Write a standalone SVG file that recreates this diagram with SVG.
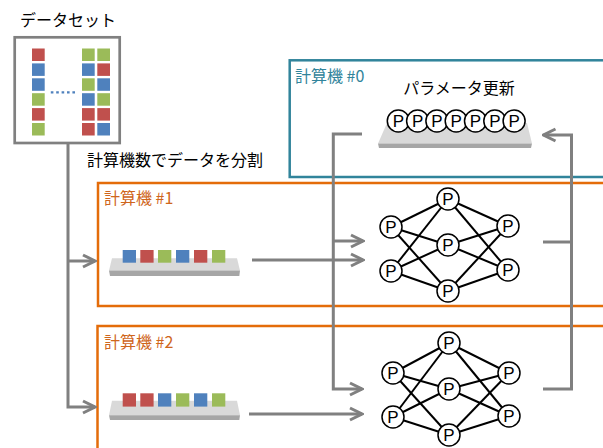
<svg xmlns="http://www.w3.org/2000/svg" width="603" height="448" viewBox="0 0 603 448">
<style>
.t{font-family:"Noto Sans CJK JP","Liberation Sans",sans-serif;font-size:16px;fill:#000}
.lt{fill:#31849B}
.lo{fill:#CF661C}
.r{fill:#C0504D}.b{fill:#4F81BD}.g{fill:#9BBB59}
.box{fill:none;stroke-width:2.5}
.conn{fill:none;stroke:#808080;stroke-width:3}
.edge{stroke:#000;stroke-width:2}
.pn circle{fill:#fff;stroke:#000;stroke-width:1.5}
.pn text{font-family:"Liberation Sans",Arial,sans-serif;font-size:17px;text-anchor:middle;fill:#000}
.tl{fill:#D9D9D9}
.td{fill:#A6A6A6}
</style>
<defs>
<marker id="ah" markerUnits="userSpaceOnUse" markerWidth="16" markerHeight="16" viewBox="0 0 16 16" refX="14" refY="8" orient="auto">
<path d="M2,2 L14,8 L2,14" fill="none" stroke="#808080" stroke-width="3"/>
</marker>
<filter id="soft" x="-5%" y="-30%" width="110%" height="160%"><feGaussianBlur stdDeviation="0.5"/></filter>
</defs>

<g id="dataset">
<text class="t" x="20" y="25.5">データセット</text>
<rect x="14.7" y="37.3" width="105" height="105.7" fill="#fff" stroke="#808080" stroke-width="2.7"/>
<rect class="r" x="32" y="48.5" width="12.7" height="12.5"/>
<rect class="b" x="32" y="63.4" width="12.7" height="12.5"/>
<rect class="b" x="32" y="78.3" width="12.7" height="12.5"/>
<rect class="g" x="32" y="93.2" width="12.7" height="12.5"/>
<rect class="r" x="32" y="108.1" width="12.7" height="12.5"/>
<rect class="g" x="32" y="123" width="12.7" height="12.5"/>
<rect class="g" x="82" y="48.5" width="12.7" height="12.5"/>
<rect class="b" x="82" y="63.4" width="12.7" height="12.5"/>
<rect class="g" x="82" y="78.3" width="12.7" height="12.5"/>
<rect class="b" x="82" y="93.2" width="12.7" height="12.5"/>
<rect class="r" x="82" y="108.1" width="12.7" height="12.5"/>
<rect class="r" x="82" y="123" width="12.7" height="12.5"/>
<rect class="g" x="97.3" y="48.5" width="12.7" height="12.5"/>
<rect class="r" x="97.3" y="63.4" width="12.7" height="12.5"/>
<rect class="b" x="97.3" y="78.3" width="12.7" height="12.5"/>
<rect class="g" x="97.3" y="93.2" width="12.7" height="12.5"/>
<rect class="r" x="97.3" y="108.1" width="12.7" height="12.5"/>
<rect class="b" x="97.3" y="123" width="12.7" height="12.5"/>
<line x1="50.8" y1="92.4" x2="75" y2="92.4" stroke="#4F81BD" stroke-width="2.4" stroke-dasharray="2.6 2.8"/>
</g>

<text id="split-label" class="t" x="87" y="165.5">計算機数でデータを分割</text>

<g id="pc0">
<rect class="box" x="289.7" y="60.3" width="330" height="116.7" stroke="#31849B"/>
<text class="t lt" x="295" y="82">計算機 #0</text>
<text class="t" x="459" y="94" text-anchor="middle">パラメータ更新</text>
<g filter="url(#soft)">
<polygon class="tl" points="387,123 527,123 532,143.5 378,143.5"/>
<polygon class="td" points="378,143.5 532,143.5 531,148 379,148"/>
</g>
<g class="pn">
<circle cx="398.3" cy="121" r="11"/><text x="398.3" y="127.1">P</text>
<circle cx="417.6" cy="121" r="11"/><text x="417.6" y="127.1">P</text>
<circle cx="436.9" cy="121" r="11"/><text x="436.9" y="127.1">P</text>
<circle cx="456.2" cy="121" r="11"/><text x="456.2" y="127.1">P</text>
<circle cx="475.5" cy="121" r="11"/><text x="475.5" y="127.1">P</text>
<circle cx="494.8" cy="121" r="11"/><text x="494.8" y="127.1">P</text>
<circle cx="514.1" cy="121" r="11"/><text x="514.1" y="127.1">P</text>
</g>
</g>

<g id="pc1">
<rect class="box" x="98" y="183" width="520" height="123" stroke="#E46C0A"/>
<text class="t lo" x="104" y="203.5">計算機 #1</text>
<g filter="url(#soft)">
<polygon class="tl" points="112,258.3 237,258.3 240,270.5 109,270.5"/>
<polygon class="td" points="109,270.5 240,270.5 239.3,276 110,276"/>
</g>
<rect class="b" x="122.7" y="250" width="13.3" height="12.7"/>
<rect class="r" x="140.3" y="250" width="13.3" height="12.7"/>
<rect class="g" x="158" y="250" width="13.3" height="12.7"/>
<rect class="b" x="176" y="250" width="13.3" height="12.7"/>
<rect class="r" x="194" y="250" width="13.3" height="12.7"/>
<rect class="g" x="212" y="250" width="13.3" height="12.7"/>
<g class="edge">
<line x1="391" y1="227" x2="448" y2="199"/><line x1="391" y1="227" x2="448" y2="245"/><line x1="391" y1="227" x2="448" y2="291"/>
<line x1="391" y1="271" x2="448" y2="199"/><line x1="391" y1="271" x2="448" y2="245"/><line x1="391" y1="271" x2="448" y2="291"/>
<line x1="448" y1="199" x2="508" y2="226"/><line x1="448" y1="199" x2="508" y2="270"/>
<line x1="448" y1="245" x2="508" y2="226"/><line x1="448" y1="245" x2="508" y2="270"/>
<line x1="448" y1="291" x2="508" y2="226"/><line x1="448" y1="291" x2="508" y2="270"/>
</g>
<g class="pn">
<circle cx="391" cy="227" r="11"/><text x="391" y="233.1">P</text>
<circle cx="391" cy="271" r="11"/><text x="391" y="277.1">P</text>
<circle cx="448" cy="199" r="11"/><text x="448" y="205.1">P</text>
<circle cx="448" cy="245" r="11"/><text x="448" y="251.1">P</text>
<circle cx="448" cy="291" r="11"/><text x="448" y="297.1">P</text>
<circle cx="508" cy="226" r="11"/><text x="508" y="232.1">P</text>
<circle cx="508" cy="270" r="11"/><text x="508" y="276.1">P</text>
</g>
</g>

<g id="pc2">
<rect class="box" x="97.5" y="326" width="520" height="140" stroke="#E46C0A"/>
<text class="t lo" x="104" y="348">計算機 #2</text>
<g filter="url(#soft)">
<polygon class="tl" points="112,400.7 237,400.7 240,415.3 109,415.3"/>
<polygon class="td" points="109,415.3 240,415.3 239.3,420 110,420"/>
</g>
<rect class="r" x="122.7" y="393.3" width="13.3" height="13.3"/>
<rect class="r" x="140.3" y="393.3" width="13.3" height="13.3"/>
<rect class="b" x="158" y="393.3" width="13.3" height="13.3"/>
<rect class="g" x="176" y="393.3" width="13.3" height="13.3"/>
<rect class="b" x="194" y="393.3" width="13.3" height="13.3"/>
<rect class="g" x="212" y="393.3" width="13.3" height="13.3"/>
<g class="edge">
<line x1="393" y1="373" x2="449" y2="343"/><line x1="393" y1="373" x2="449" y2="389"/><line x1="393" y1="373" x2="449" y2="435"/>
<line x1="393" y1="417" x2="449" y2="343"/><line x1="393" y1="417" x2="449" y2="389"/><line x1="393" y1="417" x2="449" y2="435"/>
<line x1="449" y1="343" x2="509" y2="373"/><line x1="449" y1="343" x2="509" y2="416"/>
<line x1="449" y1="389" x2="509" y2="373"/><line x1="449" y1="389" x2="509" y2="416"/>
<line x1="449" y1="435" x2="509" y2="373"/><line x1="449" y1="435" x2="509" y2="416"/>
</g>
<g class="pn">
<circle cx="393" cy="373" r="11"/><text x="393" y="379.1">P</text>
<circle cx="393" cy="417" r="11"/><text x="393" y="423.1">P</text>
<circle cx="449" cy="343" r="11"/><text x="449" y="349.1">P</text>
<circle cx="449" cy="389" r="11"/><text x="449" y="395.1">P</text>
<circle cx="449" cy="435" r="11"/><text x="449" y="441.1">P</text>
<circle cx="509" cy="373" r="11"/><text x="509" y="379.1">P</text>
<circle cx="509" cy="416" r="11"/><text x="509" y="422.1">P</text>
</g>
</g>

<g id="connectors">
<path class="conn" d="M68,144 V407 H95" marker-end="url(#ah)"/>
<path class="conn" d="M68,261 H95" marker-end="url(#ah)"/>
<path class="conn" d="M252,260 H363" marker-end="url(#ah)"/>
<path class="conn" d="M249,414 H362" marker-end="url(#ah)"/>
<path class="conn" d="M362,134 H333.3 V389 H362" marker-end="url(#ah)"/>
<path class="conn" d="M333.3,241 H363" marker-end="url(#ah)"/>
<path class="conn" d="M543,242 H571.5"/>
<path class="conn" d="M543,389 H571.5 V135 H543.5" marker-end="url(#ah)"/>
</g>
</svg>
